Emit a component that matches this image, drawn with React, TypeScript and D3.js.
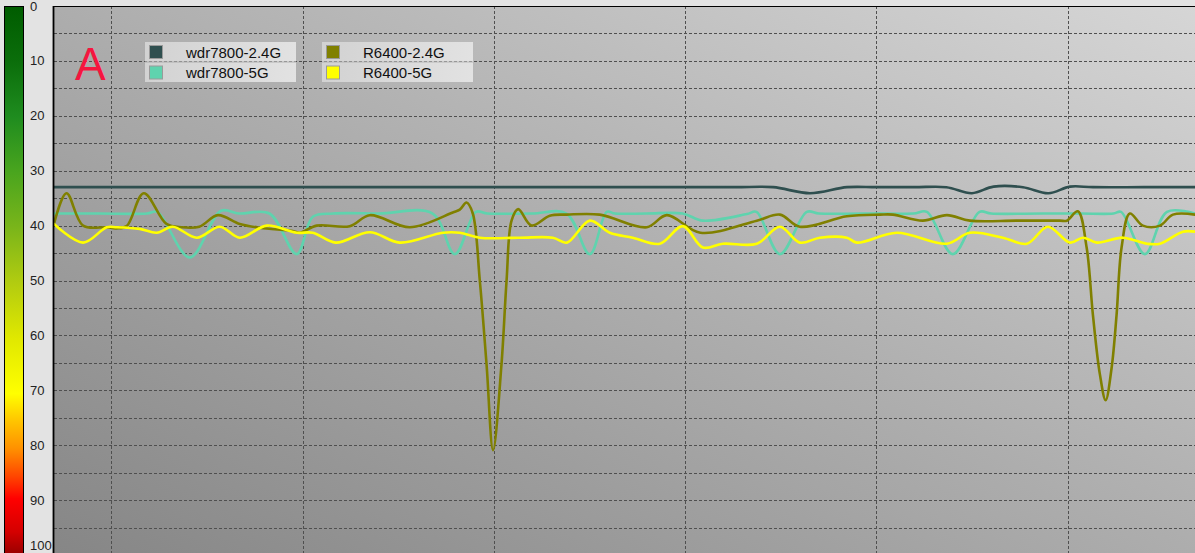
import React from "react";
import * as d3 from "d3";

const W = 1195;
const H = 553;

// y axis: signal value 0..100 (top to bottom)
const yTicks = [0, 10, 20, 30, 40, 50, 60, 70, 80, 90, 100];
const yGrid = d3.range(5, 100, 5);
// x axis: time (s)
const xDomain: [number, number] = [10.5, 100];
const xGrid = [15, 30, 45, 60, 75, 90];

const seriesNames = ["wdr7800-2.4G", "wdr7800-5G", "R6400-2.4G", "R6400-5G"];
const seriesColors = ["#2f4f4f", "#5fd3ae", "#808000", "#ffff00"];

const wdr7800_24: [number, number][] = [
  [10.5, 33], [20, 33], [30, 33], [40, 33], [50, 33], [60, 33], [64, 33], [66.9, 33], [69.8, 34.1],
  [72.7, 33], [75, 33], [78, 33], [80.5, 33], [82.5, 34.1], [84.2, 32.9], [86.5, 33], [88.5, 34.1],
  [90.2, 32.9], [92, 33], [96, 33], [100, 33],
];

const wdr7800_5: [number, number][] = [
  [10.5, 37.8], [14, 37.8], [17.8, 37.8], [18.6, 37.5], [21.15, 45.8], [23.6, 37.3], [25, 37.8],
  [27.4, 37.8], [29.54, 45.2], [30.8, 38.4], [32.4, 37.8], [36, 37.8], [40.2, 37.8], [41.94, 45.2],
  [43.6, 37.5], [44.5, 37.8], [48, 37.8], [50.7, 37.8], [52.53, 45.2], [53.86, 37.5], [54.5, 37.8],
  [57, 37.8], [59.8, 37.8], [61.4, 39.1], [64.85, 37.9], [65.6, 37.5], [67.44, 45.2], [69.55, 37.5],
  [70.5, 37.8], [74, 37.8], [77.9, 37.8], [78.97, 37.5], [81.0, 45.2], [83.1, 37.5], [84, 37.8],
  [88, 37.8], [91, 37.8], [93.6, 37.8], [94.2, 37.5], [96.07, 45.2], [97.8, 37.5], [100, 37.8],
];

const r6400_24: [number, number][] = [
  [10.5, 39.7], [11.48, 34.1], [12.78, 40.0], [14.6, 40.3], [15.4, 40.5], [16.2, 40.1], [17.54, 34.1],
  [19.32, 39.7], [20.5, 40.3], [21.9, 40.2], [23.35, 38.1], [25.07, 39.7], [26.64, 40.4], [29.23, 41.0],
  [29.78, 41.3], [31.11, 40.0], [33.7, 40.1], [35.27, 38.1], [38.41, 40.3], [41.78, 37.6], [42.33, 37.1],
  [42.86, 35.8], [43.35, 37.8], [43.9, 50], [44.43, 65.3], [44.94, 80.9], [45.6, 65.3], [46.0, 50],
  [46.39, 39.1], [46.91, 37.0], [47.96, 40.0], [49.39, 38.2], [50.73, 38.0], [53.31, 38.0], [57.0, 40.3],
  [58.57, 38.1], [61.2, 41.3], [65.63, 39.1], [67.44, 38.0], [69.0, 40.2], [72.69, 38.3], [75.3, 38.0],
  [76.3, 38.0], [78.65, 39.1], [80.54, 38.1], [82.34, 39.1], [86, 39.1], [89.4, 39.1], [89.95, 39.1],
  [90.81, 37.4], [91.5, 44], [91.99, 56.2], [92.54, 67.1], [92.99, 71.8], [93.46, 65.9], [93.85, 56.2],
  [94.24, 44], [94.89, 37.8], [95.91, 40.0], [97.25, 40.0], [98.27, 38.0], [100, 38.0],
];

const r6400_5: [number, number][] = [
  [10.5, 39.7], [12.78, 43.1], [14.64, 40.3], [15.42, 40.3], [17.23, 40.6], [18.56, 41.3], [19.82, 40.2],
  [21.7, 42.2], [23.5, 40.2], [25.07, 42.2], [27.19, 40.0], [29.54, 41.3], [30.8, 41.3], [32.6, 43.1],
  [35.27, 41.2], [37.62, 43.1], [41.0, 41.3], [42.33, 41.3], [43.9, 42.2], [47, 42.2], [49.63, 42.2],
  [50.73, 43.1], [52.53, 39.1], [54.1, 41.3], [55.9, 42.2], [58.02, 43.3], [59.83, 40.1], [61.4, 44.0],
  [62.96, 43.3], [65.63, 43.3], [67.44, 40.2], [69.0, 43.1], [70.57, 42.2], [72.69, 42.2], [73.48, 43.1],
  [76.61, 41.3], [80.54, 43.3], [82.34, 41.3], [84.93, 42.2], [86.81, 43.3], [88.46, 40.2], [90.19, 43.1],
  [91.21, 42.2], [92.3, 43.1], [94.34, 42.2], [96.23, 43.3], [97.25, 43.3], [99.05, 41.1], [100, 41.1],
];

const seriesData = [wdr7800_24, wdr7800_5, r6400_24, r6400_5];

const barStops: [number, string][] = [
  [0, "#005c00"], [10, "#0b6e0b"], [20, "#1f8c1f"], [30, "#4aa51e"], [40, "#7ab51a"],
  [50, "#b2cc10"], [60, "#e0e800"], [70, "#ffff00"], [75, "#ffc400"], [80, "#ff9000"],
  [85, "#ff4500"], [89, "#ff0000"], [95, "#d40000"], [100, "#8b0000"],
];

export default function App() {
  const plotL = 54, plotR = W, plotT = 6, plotB = 555;
  const x = d3.scaleLinear().domain(xDomain).range([plotL, plotR]);
  const y = d3.scaleLinear().domain([0, 100]).range([plotT, plotB]);
  const line = d3
    .line<[number, number]>()
    .x((d) => x(d[0]))
    .y((d) => y(d[1]))
    .curve(d3.curveCatmullRom.alpha(0.5));

  const legendCols = [145, 322];
  const legendTop = 42;
  const rowH = 20.5;
  const font = "'Liberation Sans', Arial, sans-serif";

  return (
    <svg
      width={W}
      height={H}
      style={{ position: "absolute", left: 0, top: 0, display: "block" }}
      fontFamily={font}
    >
      <defs>
        <linearGradient id="bg" x1="0" y1="1" x2="1" y2="0">
          <stop offset="0" stopColor="#868686" />
          <stop offset="0.5" stopColor="#adadad" />
          <stop offset="1" stopColor="#d6d6d6" />
        </linearGradient>
        <linearGradient id="bar" x1="0" y1="0" x2="0" y2="1">
          {barStops.map(([v, c]) => (
            <stop key={v} offset={v / 100} stopColor={c} />
          ))}
        </linearGradient>
        <linearGradient id="leg" x1="0" y1="0" x2="1" y2="0">
          <stop offset="0" stopColor="#d2d2d2" />
          <stop offset="1" stopColor="#e2e2e2" />
        </linearGradient>
        <clipPath id="plotclip">
          <rect x={plotL} y={plotT} width={plotR - plotL} height={H - plotT} />
        </clipPath>
      </defs>
      <rect x={0} y={0} width={W} height={H} fill="#e3e3e3" />
      {/* color bar */}
      <rect x={4.5} y={6.5} width={19} height={H} fill="url(#bar)" stroke="#000" strokeWidth={1} />
      {yTicks.map((t) => (
        <text
          key={t}
          x={30}
          y={t === 100 ? y(t) - 10 : y(t)}
          dy="0.35em"
          fontSize={13}
          fill="#222"
        >
          {t}
        </text>
      ))}
      {/* plot */}
      <rect x={plotL} y={plotT} width={plotR - plotL} height={H - plotT} fill="url(#bg)" />
      <g clipPath="url(#plotclip)">
        {yGrid.map((t) => (
          <line
            key={"h" + t}
            x1={plotL}
            x2={plotR}
            y1={Math.round(y(t)) + 0.5}
            y2={Math.round(y(t)) + 0.5}
            stroke="#4f4f4f"
            strokeWidth={1}
            strokeDasharray="3,2"
          />
        ))}
        {xGrid.map((t) => (
          <line
            key={"v" + t}
            x1={Math.round(x(t)) + 0.5}
            x2={Math.round(x(t)) + 0.5}
            y1={plotT}
            y2={H}
            stroke="#4f4f4f"
            strokeWidth={1}
            strokeDasharray="3,2"
          />
        ))}
        {seriesData.map((d, i) => (
          <path
            key={i}
            d={line(d) || ""}
            fill="none"
            stroke={seriesColors[i]}
            strokeWidth={2.6}
            strokeLinejoin="round"
            strokeLinecap="round"
          />
        ))}
      </g>
      <line x1={plotL - 0.5} x2={plotL - 0.5} y1={plotT} y2={H} stroke="#000" strokeWidth={1.8} />
      <line x1={plotL} x2={plotR} y1={plotT + 0.5} y2={plotT + 0.5} stroke="#000" strokeWidth={1} />
      {/* big label */}
      <text x={75} y={80} fontSize={46} fill="#f5163f" fontFamily={font}>
        A
      </text>
      {/* legend */}
      {seriesNames.map((name, i) => {
        const col = Math.floor(i / 2);
        const row = i % 2;
        const lx = legendCols[col];
        const ly = legendTop + row * rowH;
        return (
          <g key={name}>
            <rect x={lx} y={ly} width={151} height={rowH - 1} fill="url(#leg)" />
            <rect
              x={lx + 4.5}
              y={ly + 3.5}
              width={13}
              height={13}
              fill={seriesColors[i]}
              stroke="#9a9a9a"
              strokeWidth={1}
            />
            <text x={lx + 41} y={ly + rowH / 2} dy="0.35em" fontSize={15} fill="#111">
              {name}
            </text>
          </g>
        );
      })}
    </svg>
  );
}
